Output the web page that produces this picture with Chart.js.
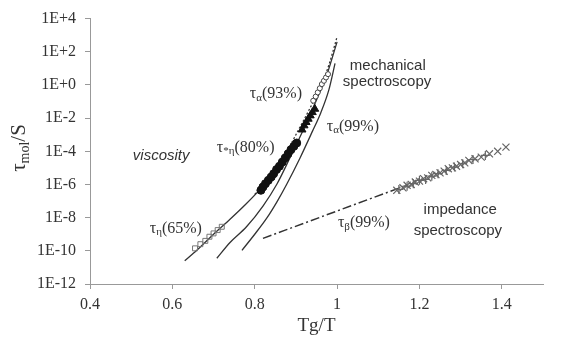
<!DOCTYPE html>
<html>
<head>
<meta charset="utf-8">
<script src="https://cdn.jsdelivr.net/npm/chart.js@4.4.0/dist/chart.umd.min.js"></script>
<style>
    html, body { margin: 0; padding: 0; background: #fff; }
</style>
</head>
<body>
<canvas id="chart" width="564" height="338"></canvas>
<script>
// x = Tg/T, y = log10(tau_mol / s)
const xTicks = [0.4, 0.6, 0.8, 1.0, 1.2, 1.4];
const yTicks = [-12, -10, -8, -6, -4, -2, 0, 2, 4];
const yTickLabels = ["1E-12", "1E-10", "1E-8", "1E-6", "1E-4", "1E-2", "1E+0", "1E+2", "1E+4"];

// fitted curves
const etaFit = [[0.63, -10.6], [0.66, -9.95], [0.70, -9.0], [0.74, -8.1], [0.78, -7.15], [0.82, -6.1], [0.86, -4.85]];
const alpha93Fit = [[0.80, -6.6], [0.84, -5.5], [0.87, -4.4], [0.90, -3.0], [0.93, -1.6], [0.96, -0.1], [0.98, 1.2], [1.00, 2.9]];
const starEtaFit = [[0.708, -10.45], [0.74, -9.5], [0.78, -8.55], [0.82, -7.3], [0.854, -5.97], [0.885, -4.42], [0.92, -2.6], [0.95, -0.9], [0.975, 0.6], [1.0, 2.6]];
const alpha99Fit = [[0.769, -9.97], [0.80, -9.0], [0.83, -8.0], [0.855, -7.0], [0.878, -5.97], [0.91, -4.4], [0.94, -2.8], [0.96, -1.7], [0.98, -0.3], [0.995, 1.3]];
const betaFit = [[0.82, -9.25], [1.16, -6.13]];

// measured points
const etaPoints = [[0.655, -9.85], [0.668, -9.6], [0.68, -9.4], [0.69, -9.15], [0.70, -8.95], [0.71, -8.75], [0.72, -8.55]];
const starEtaPoints = [[0.815, -6.35], [0.82, -6.15], [0.826, -5.95], [0.833, -5.75], [0.84, -5.55], [0.846, -5.35], [0.853, -5.1],
    [0.86, -4.9], [0.867, -4.65], [0.874, -4.4], [0.881, -4.15], [0.888, -3.9], [0.895, -3.7], [0.902, -3.5]];
const alpha93Points = [[0.915, -2.7], [0.92, -2.45], [0.925, -2.25], [0.93, -2.05], [0.935, -1.85], [0.94, -1.65], [0.946, -1.45]];
const alpha99Points = [[0.942, -0.95], [0.948, -0.7], [0.953, -0.45], [0.958, -0.2], [0.963, 0.05], [0.968, 0.25], [0.973, 0.45], [0.978, 0.65]];
const betaCross = [[1.145, -6.35], [1.16, -6.2], [1.17, -6.05], [1.18, -6.0], [1.19, -5.85], [1.20, -5.8], [1.21, -5.65], [1.22, -5.6],
    [1.23, -5.45], [1.24, -5.4], [1.25, -5.3], [1.26, -5.2], [1.27, -5.05], [1.28, -5.0], [1.29, -4.9], [1.30, -4.8], [1.31, -4.7],
    [1.32, -4.55], [1.335, -4.45], [1.35, -4.35], [1.37, -4.15], [1.39, -4.0], [1.41, -3.75]];
const betaPlus = [[1.15, -6.3], [1.17, -6.1], [1.185, -5.95], [1.2, -5.75], [1.215, -5.7], [1.23, -5.5], [1.245, -5.35],
    [1.265, -5.15], [1.285, -4.95], [1.305, -4.75], [1.33, -4.5], [1.36, -4.25]];

const serif = '"Liberation Serif", "Times New Roman", serif';
const sans = '"Liberation Sans", Arial, sans-serif';
const ink = "#333";

function toXY(list) {
    return list.map((p) => ({ x: p[0], y: p[1] }));
}

function curve(list, dash, width) {
    return {
        data: toXY(list),
        showLine: true,
        borderColor: ink,
        borderWidth: width || 1.3,
        borderDash: dash || [],
        pointRadius: 0,
        tension: 0.4,
        cubicInterpolationMode: "monotone",
    };
}

function marks(list, style, radius, fill, stroke, bw) {
    return {
        data: toXY(list),
        showLine: false,
        pointStyle: style,
        pointRadius: radius,
        backgroundColor: fill,
        borderColor: stroke,
        borderWidth: bw,
    };
}

// greek labels: symbol + subscript + rest, placed in data units
const greekNotes = [
    { x: 0.545, y: -8.66, sub: "η", rest: "(65%)" },
    { x: 0.708, y: -3.76, sub: "*η", rest: "(80%)" },
    { x: 0.788, y: -0.54, sub: "α", rest: "(93%)" },
    { x: 0.975, y: -2.51, sub: "α", rest: "(99%)" },
    { x: 1.002, y: -8.30, sub: "β", rest: "(99%)" },
];
const plainNotes = [
    { x: 0.504, y: -4.30, text: "viscosity", italic: true },
    { x: 1.031, y: 1.13, text: "mechanical" },
    { x: 1.014, y: 0.18, text: "spectroscopy" },
    { x: 1.210, y: -7.55, text: "impedance" },
    { x: 1.186, y: -8.80, text: "spectroscopy" },
];

const notesPlugin = {
    id: "notes",
    afterDraw(chart) {
        const ctx = chart.ctx;
        const xs = chart.scales.x, ys = chart.scales.y;
        ctx.save();
        ctx.fillStyle = ink;
        ctx.textBaseline = "middle";
        ctx.textAlign = "left";

        greekNotes.forEach((n) => {
            let px = xs.getPixelForValue(n.x);
            const py = ys.getPixelForValue(n.y);
            ctx.font = "16px " + serif;
            ctx.fillText("τ", px, py);
            px += ctx.measureText("τ").width;
            ctx.font = "11px " + serif;
            ctx.fillText(n.sub, px, py + 4);
            px += ctx.measureText(n.sub).width;
            ctx.font = "16px " + serif;
            ctx.fillText(n.rest, px, py);
        });

        plainNotes.forEach((n) => {
            ctx.font = (n.italic ? "italic " : "") + "15px " + sans;
            ctx.fillText(n.text, xs.getPixelForValue(n.x), ys.getPixelForValue(n.y));
        });

        // y title, rotated
        ctx.translate(19, 148);
        ctx.rotate(-Math.PI / 2);
        ctx.font = "21px " + serif;
        const w1 = ctx.measureText("τ").width;
        ctx.font = "14px " + serif;
        const w2 = ctx.measureText("mol").width;
        ctx.font = "21px " + serif;
        const w3 = ctx.measureText("/S").width;
        let tx = -(w1 + w2 + w3) / 2;
        ctx.fillText("τ", tx, 0);
        tx += w1;
        ctx.font = "14px " + serif;
        ctx.fillText("mol", tx, 6);
        tx += w2;
        ctx.font = "21px " + serif;
        ctx.fillText("/S", tx, 0);
        ctx.restore();

        // x title
        ctx.save();
        ctx.fillStyle = ink;
        ctx.font = "19px " + serif;
        ctx.textAlign = "center";
        ctx.textBaseline = "middle";
        ctx.fillText("Tg/T", (chart.chartArea.left + chart.chartArea.right) / 2, 326);
        ctx.restore();
    },
};

const ctx = document.getElementById("chart").getContext("2d");
const chart = new Chart(ctx, {
    type: "scatter",
    data: {
        datasets: [
            marks(starEtaPoints, "circle", 4, "#111", "#111", 1),
            marks(alpha93Points, "triangle", 4.5, "#111", "#111", 1),
            marks(alpha99Points, "circle", 2.5, "#fff", "#444", 1),
            marks(etaPoints, "rect", 3.5, "rgba(0,0,0,0)", "#777", 1),
            marks(betaCross, "crossRot", 5, "#666", "#666", 1.2),
            marks(betaPlus, "cross", 4.5, "#666", "#666", 1.2),
            curve(etaFit),
            curve(alpha93Fit, [2, 2]),
            curve(starEtaFit),
            curve(alpha99Fit),
            curve(betaFit, [9, 3, 2, 3], 1.5),
        ],
    },
    options: {
        responsive: false,
        animation: false,
        devicePixelRatio: 1,
        layout: { padding: { top: 16, right: 21, left: 0, bottom: 0 } },
        plugins: {
            legend: { display: false },
            tooltip: { enabled: false },
        },
        scales: {
            x: {
                type: "linear",
                min: 0.4,
                max: 1.5,
                afterBuildTicks: (scale) => {
                    scale.ticks = xTicks.map((v) => ({ value: v }));
                },
                afterFit: (scale) => {
                    scale.height = 54;
                },
                ticks: {
                    font: { family: serif, size: 16 },
                    color: ink,
                    padding: 6,
                    maxRotation: 0,
                    callback: (v) => String(Math.round(v * 10) / 10),
                },
                grid: { drawOnChartArea: false, tickLength: 5, color: "#999" },
                border: { color: "#999" },
            },
            y: {
                type: "linear",
                min: -12,
                max: 4,
                afterBuildTicks: (scale) => {
                    scale.ticks = yTicks.map((v) => ({ value: v }));
                },
                afterFit: (scale) => {
                    scale.width = 90;
                },
                ticks: {
                    font: { family: serif, size: 16 },
                    color: ink,
                    padding: 9,
                    callback: (v) => yTickLabels[yTicks.indexOf(v)],
                },
                grid: { drawOnChartArea: false, tickLength: 5, color: "#999" },
                border: { color: "#999" },
            },
        },
    },
    plugins: [notesPlugin],
});
</script>
</body>
</html>
